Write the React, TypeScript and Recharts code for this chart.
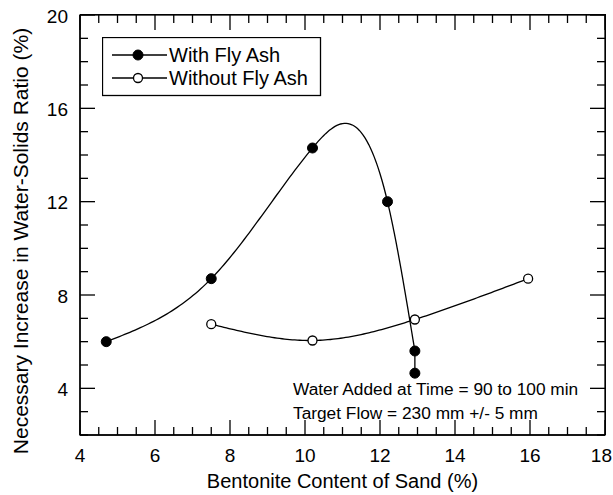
import React from 'react';
import { ComposedChart, Line, XAxis, YAxis, Legend, Customized, Label } from 'recharts';

const withFlyAshX = [4.7, 7.5, 10.2, 12.2, 12.93, 12.93];
const withFlyAshY = [6.0, 8.7, 14.3, 12.0, 5.6, 4.65];
const withoutFlyAshX = [7.5, 10.2, 12.93, 15.95];
const withoutFlyAshY = [6.75, 6.05, 6.95, 8.7];

const xTicks = [4, 4.5, 5, 5.5, 6, 6.5, 7, 7.5, 8, 8.5, 9, 9.5, 10, 10.5, 11, 11.5, 12, 12.5, 13, 13.5, 14, 14.5, 15, 15.5, 16, 16.5, 17, 17.5, 18];
const xMajorTicks = [4, 6, 8, 10, 12, 14, 16, 18];
const yTicks = [2, 3, 4, 5, 6, 7, 8, 9, 10, 11, 12, 13, 14, 15, 16, 17, 18, 19, 20];
const yMajorTicks = [4, 8, 12, 16, 20];
const xDomain = [4, 18];
const yDomain = [2, 20];

const seriesNames = ['With Fly Ash', 'Without Fly Ash'];
const xTitle = 'Bentonite Content of Sand (%)';
const yTitle = 'Necessary Increase in Water-Solids Ratio (%)';
const notes = ['Water Added at Time = 90 to 100 min', 'Target Flow = 230 mm +/- 5 mm'];

const withData = withFlyAshX.map((x, i) => ({ x, y: withFlyAshY[i] }));
const withoutData = withoutFlyAshX.map((x, i) => ({ x, y: withoutFlyAshY[i] }));

const FONT = '"Liberation Sans", Arial, Helvetica, sans-serif';
const MAJOR = 15;
const MINOR = 8;
const SW = 1.3;

// layout
const W = 613;
const H = 495;
const M = { top: 15, right: 8, bottom: 0, left: 0 };
const Y_AXIS_W = 80;
const X_AXIS_H = 60;
const PLOT_L = M.left + Y_AXIS_W;
const PLOT_T = M.top;
const PLOT_W = W - M.left - M.right - Y_AXIS_W;
const PLOT_H = H - M.top - M.bottom - X_AXIS_H;

// Natural cubic spline of y as a function of x (as in the original plotting software).
// Runs of strictly increasing x are splined; a repeated x is joined with a straight segment.
function naturalSplineX(context: any) {
  let xs: number[] = [];
  let ys: number[] = [];
  const drawRun = (rx: number[], ry: number[], first: boolean) => {
    const n = rx.length;
    if (first) context.moveTo(rx[0], ry[0]);
    if (n === 1) return;
    if (n === 2) {
      context.lineTo(rx[1], ry[1]);
      return;
    }
    const h: number[] = [];
    for (let i = 0; i < n - 1; i++) h.push(rx[i + 1] - rx[i]);
    const m = n - 2;
    const a: number[] = [], b: number[] = [], c: number[] = [], d: number[] = [];
    for (let i = 1; i <= m; i++) {
      a.push(h[i - 1]);
      b.push(2 * (h[i - 1] + h[i]));
      c.push(h[i]);
      d.push(6 * ((ry[i + 1] - ry[i]) / h[i] - (ry[i] - ry[i - 1]) / h[i - 1]));
    }
    for (let i = 1; i < m; i++) {
      const w = a[i] / b[i - 1];
      b[i] -= w * c[i - 1];
      d[i] -= w * d[i - 1];
    }
    const Mi: number[] = new Array(m).fill(0);
    for (let i = m - 1; i >= 0; i--) {
      Mi[i] = (d[i] - (i < m - 1 ? c[i] * Mi[i + 1] : 0)) / b[i];
    }
    const Ms = [0, ...Mi, 0];
    for (let i = 0; i < n - 1; i++) {
      const steps = 40;
      for (let s = 1; s <= steps; s++) {
        const x = rx[i] + (h[i] * s) / steps;
        const A = rx[i + 1] - x;
        const B = x - rx[i];
        const y =
          (Ms[i] * A * A * A) / (6 * h[i]) +
          (Ms[i + 1] * B * B * B) / (6 * h[i]) +
          (ry[i] / h[i] - (Ms[i] * h[i]) / 6) * A +
          (ry[i + 1] / h[i] - (Ms[i + 1] * h[i]) / 6) * B;
        context.lineTo(x, y);
      }
    }
  };
  return {
    areaStart() {},
    areaEnd() {},
    lineStart() {
      xs = [];
      ys = [];
    },
    point(x: number, y: number) {
      xs.push(+x);
      ys.push(+y);
    },
    lineEnd() {
      if (!xs.length) return;
      let start = 0;
      let first = true;
      for (let i = 1; i <= xs.length; i++) {
        if (i === xs.length || xs[i] - xs[i - 1] <= 1e-6) {
          drawRun(xs.slice(start, i), ys.slice(start, i), first);
          first = false;
          if (i < xs.length) {
            context.lineTo(xs[i], ys[i]);
            start = i;
          }
        }
      }
    },
  };
}

const BottomTick = (p: any) => {
  const { x, y, payload } = p;
  const v = payload.value;
  const major = xMajorTicks.includes(v);
  const last = v === xMajorTicks[xMajorTicks.length - 1];
  return (
    <g>
      <line x1={x} x2={x} y1={y} y2={y - (major ? MAJOR : MINOR)} stroke="#000" strokeWidth={SW} />
      {major && (
        <text
          x={last ? x + 7 : x}
          y={y + 27}
          textAnchor={last ? 'end' : 'middle'}
          fontSize={19}
          fontFamily={FONT}
          fill="#000"
        >
          {v}
        </text>
      )}
    </g>
  );
};

const LeftTick = (p: any) => {
  const { x, y, payload } = p;
  const v = payload.value;
  const major = yMajorTicks.includes(v);
  return (
    <g>
      <line x1={x} x2={x + (major ? MAJOR : MINOR)} y1={y} y2={y} stroke="#000" strokeWidth={SW} />
      {major && (
        <text x={x - 12} y={y + 1} dy="0.35em" textAnchor="end" fontSize={19} fontFamily={FONT} fill="#000">
          {v}
        </text>
      )}
    </g>
  );
};

// mirrored frame (top and right edges with inward ticks), same linear mapping as the axes
const Frame = () => {
  const sx = (v: number) => PLOT_L + ((v - xDomain[0]) / (xDomain[1] - xDomain[0])) * PLOT_W;
  const sy = (v: number) => PLOT_T + PLOT_H - ((v - yDomain[0]) / (yDomain[1] - yDomain[0])) * PLOT_H;
  const right = PLOT_L + PLOT_W;
  const top = PLOT_T;
  return (
    <g className="plot-frame">
      <rect x={PLOT_L} y={top} width={PLOT_W} height={PLOT_H} fill="none" stroke="#000" strokeWidth={SW} />
      {xTicks.map((v) => (
        <line
          key={`t${v}`}
          x1={sx(v)}
          x2={sx(v)}
          y1={top}
          y2={top + (xMajorTicks.includes(v) ? MAJOR : MINOR)}
          stroke="#000"
          strokeWidth={SW}
        />
      ))}
      {yTicks.map((v) => (
        <line
          key={`r${v}`}
          x1={right}
          x2={right - (yMajorTicks.includes(v) ? MAJOR : MINOR)}
          y1={sy(v)}
          y2={sy(v)}
          stroke="#000"
          strokeWidth={SW}
        />
      ))}
    </g>
  );
};

const LegendBox = () => (
  <svg width={220} height={60} style={{ display: 'block' }}>
    <rect x={0.5} y={0.5} width={218} height={58} fill="#fff" stroke="#000" strokeWidth={SW} />
    <line x1={10} x2={65} y1={18} y2={18} stroke="#000" strokeWidth={SW} />
    <circle cx={36} cy={18} r={5} fill="#000" stroke="#000" />
    <text x={67} y={25} fontSize={20} fontFamily={FONT} fill="#000">{seriesNames[0]}</text>
    <line x1={10} x2={65} y1={41} y2={41} stroke="#000" strokeWidth={SW} />
    <circle cx={36} cy={41} r={4.5} fill="#fff" stroke="#000" strokeWidth={SW} />
    <text x={67} y={48} fontSize={20} fontFamily={FONT} fill="#000">{seriesNames[1]}</text>
  </svg>
);

const Notes = () => (
  <g>
    <text x={293} y={395} fontSize={17.3} fontFamily={FONT} fill="#000">{notes[0]}</text>
    <text x={293} y={419} fontSize={17.3} fontFamily={FONT} fill="#000">{notes[1]}</text>
  </g>
);

export default function App() {
  return (
    <div style={{ position: 'absolute', left: 0, top: 0, width: W, height: H }}>
      <style>{`.recharts-surface { overflow: visible; }`}</style>
      <ComposedChart width={W} height={H} margin={M}>
        <XAxis
          xAxisId="bottom"
          dataKey="x"
          type="number"
          domain={xDomain}
          ticks={xTicks}
          interval={0}
          allowDataOverflow
          height={X_AXIS_H}
          tickSize={0}
          tickMargin={0}
          tickLine={false}
          tick={BottomTick}
          axisLine={{ stroke: '#000', strokeWidth: SW }}
        >
          <Label
            content={(props: any) => {
              const vb = props.viewBox;
              return (
                <text x={vb.x + vb.width / 2} y={vb.y + 53} textAnchor="middle" fontSize={20} fontFamily={FONT} fill="#000">
                  {xTitle}
                </text>
              );
            }}
          />
        </XAxis>
        <YAxis
          yAxisId="left"
          dataKey="y"
          type="number"
          domain={yDomain}
          ticks={yTicks}
          interval={0}
          allowDataOverflow
          width={Y_AXIS_W}
          tickSize={0}
          tickMargin={0}
          tickLine={false}
          tick={LeftTick}
          axisLine={{ stroke: '#000', strokeWidth: SW }}
        >
          <Label
            content={() => {
              const cx = 28;
              const cy = 241;
              return (
                <text x={cx} y={cy} transform={`rotate(-90 ${cx} ${cy})`} textAnchor="middle" fontSize={21} fontFamily={FONT} fill="#000">
                  {yTitle}
                </text>
              );
            }}
          />
        </YAxis>
        <Legend
          layout="horizontal"
          verticalAlign="middle"
          align="center"
          wrapperStyle={{ top: 37, left: 102, width: 220, height: 60 }}
          content={() => <LegendBox />}
        />
        <Line
          name={seriesNames[0]}
          data={withData}
          dataKey="y"
          xAxisId="bottom"
          yAxisId="left"
          type={naturalSplineX as any}
          stroke="#000"
          strokeWidth={SW}
          dot={{ r: 5, fill: '#000', stroke: '#000', strokeWidth: 1 }}
          activeDot={false}
          isAnimationActive={false}
        />
        <Line
          name={seriesNames[1]}
          data={withoutData}
          dataKey="y"
          xAxisId="bottom"
          yAxisId="left"
          type={naturalSplineX as any}
          stroke="#000"
          strokeWidth={SW}
          dot={{ r: 4.5, fill: '#fff', stroke: '#000', strokeWidth: SW }}
          activeDot={false}
          isAnimationActive={false}
        />
        <Customized component={Notes} />
        <Customized component={Frame} />
      </ComposedChart>
      <div
        style={{
          position: 'absolute',
          left: PLOT_L,
          top: PLOT_T - 0.65,
          width: PLOT_W + 0.65,
          height: PLOT_H + 0.65,
          boxSizing: 'border-box',
          borderTop: `${SW}px solid #000`,
          borderRight: `${SW}px solid #000`,
          pointerEvents: 'none',
        }}
      />
    </div>
  );
}
